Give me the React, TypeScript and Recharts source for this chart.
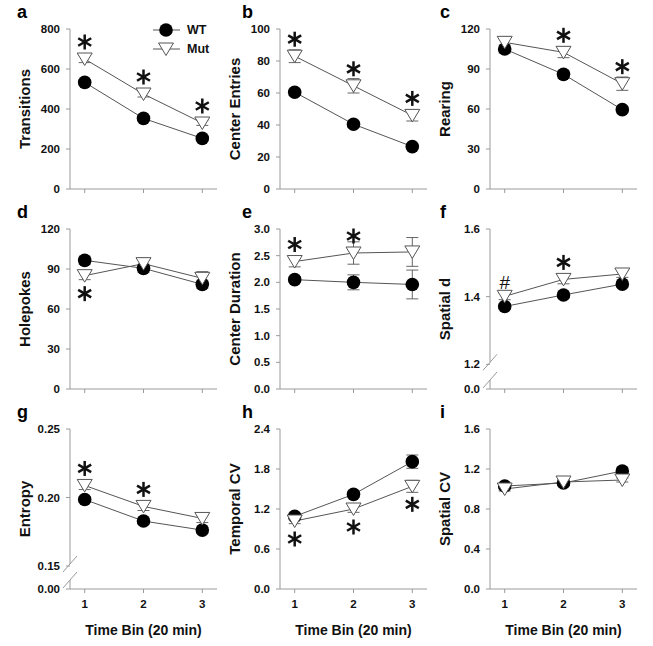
import React from 'react';
import { LineChart, Line, XAxis, YAxis, ErrorBar, LabelList } from 'recharts';

const FONT = 'Arial, "Liberation Sans", sans-serif';
const AXIS = '#9a9a9a';
const PLOT_TOP = 29;

const bins = [1, 2, 3];

// a - Transitions
const transWT = [533, 353, 253];
const transMut = [650, 475, 330];
const transWTErr = [14, 12, 10];
const transMutErr = [18, 15, 12];
const transSig = ['*', '*', '*'];

// b - Center Entries
const entriesWT = [60.5, 40.5, 26.5];
const entriesMut = [83, 64.5, 46];
const entriesWTErr = [2, 2, 1.5];
const entriesMutErr = [4, 4.5, 3.5];
const entriesSig = ['*', '*', '*'];

// c - Rearing
const rearWT = [105, 86, 59.5];
const rearMut = [110, 102.5, 79];
const rearWTErr = [3, 3, 2.5];
const rearMutErr = [4, 4, 5];
const rearSig = [null, '*', '*'];

// d - Holepokes
const holeWT = [96.5, 90.5, 78.5];
const holeMut = [85, 94, 83];
const holeWTErr = [3, 3, 3];
const holeMutErr = [3, 4, 5];
const holeSig = ['*', null, null];

// e - Center Duration
const durWT = [2.05, 2.0, 1.96];
const durMut = [2.39, 2.55, 2.57];
const durWTErr = [0.05, 0.14, 0.27];
const durMutErr = [0.1, 0.21, 0.27];
const durSig = ['*', '*', null];

// f - Spatial d
const spdWT = [1.371, 1.405, 1.437];
const spdMut = [1.401, 1.451, 1.467];
const spdWTErr = [0.008, 0.008, 0.008];
const spdMutErr = [0.01, 0.013, 0.01];
const spdSig = ['#', '*', null];

// g - Entropy
const entWT = [0.1985, 0.1828, 0.1762];
const entMut = [0.2088, 0.1935, 0.1847];
const entWTErr = [0.002, 0.002, 0.002];
const entMutErr = [0.003, 0.003, 0.003];
const entSig = ['*', '*', null];

// h - Temporal CV
const tcvWT = [1.09, 1.42, 1.91];
const tcvMut = [1.02, 1.2, 1.54];
const tcvWTErr = [0.05, 0.05, 0.1];
const tcvMutErr = [0.04, 0.05, 0.09];
const tcvSig = ['*', '*', '*'];

// i - Spatial CV
const scvWT = [1.03, 1.06, 1.18];
const scvMut = [1.0, 1.07, 1.09];
const scvWTErr = [0.02, 0.02, 0.03];
const scvMutErr = [0.02, 0.02, 0.02];
const scvSig = [null, null, null];

// y tick values and labels
const ticksA = [0, 200, 400, 600, 800];
const labelsA = ['0', '200', '400', '600', '800'];
const ticksB = [0, 20, 40, 60, 80, 100];
const labelsB = ['0', '20', '40', '60', '80', '100'];
const ticks120 = [0, 30, 60, 90, 120];
const labels120 = ['0', '30', '60', '90', '120'];
const ticksE = [0, 0.5, 1, 1.5, 2, 2.5, 3];
const labelsE = ['0.0', '0.5', '1.0', '1.5', '2.0', '2.5', '3.0'];
const ticksF = [1.127, 1.2, 1.4, 1.6];
const labelsF = ['0.0', '1.2', '1.4', '1.6'];
const ticksG = [0.1332, 0.15, 0.2, 0.25];
const labelsG = ['0.00', '0.15', '0.20', '0.25'];
const ticksH = [0, 0.6, 1.2, 1.8, 2.4];
const labelsH = ['0.0', '0.6', '1.2', '1.8', '2.4'];
const ticksI = [0, 0.4, 0.8, 1.2, 1.6];
const labelsI = ['0.0', '0.4', '0.8', '1.2', '1.6'];

interface PanelDef {
  letter: string;
  label: string;
  wt: number[];
  mut: number[];
  wtErr: number[];
  mutErr: number[];
  sig: (string | null)[];
  sigBelow?: boolean;
  ticks: number[];
  tickLabels: string[];
  broken?: boolean;
}

const panels: PanelDef[] = [
  { letter: 'a', label: 'Transitions', wt: transWT, mut: transMut, wtErr: transWTErr, mutErr: transMutErr, sig: transSig, ticks: ticksA, tickLabels: labelsA },
  { letter: 'b', label: 'Center Entries', wt: entriesWT, mut: entriesMut, wtErr: entriesWTErr, mutErr: entriesMutErr, sig: entriesSig, ticks: ticksB, tickLabels: labelsB },
  { letter: 'c', label: 'Rearing', wt: rearWT, mut: rearMut, wtErr: rearWTErr, mutErr: rearMutErr, sig: rearSig, ticks: ticks120, tickLabels: labels120 },
  { letter: 'd', label: 'Holepokes', wt: holeWT, mut: holeMut, wtErr: holeWTErr, mutErr: holeMutErr, sig: holeSig, sigBelow: true, ticks: ticks120, tickLabels: labels120 },
  { letter: 'e', label: 'Center Duration', wt: durWT, mut: durMut, wtErr: durWTErr, mutErr: durMutErr, sig: durSig, ticks: ticksE, tickLabels: labelsE },
  { letter: 'f', label: 'Spatial d', wt: spdWT, mut: spdMut, wtErr: spdWTErr, mutErr: spdMutErr, sig: spdSig, ticks: ticksF, tickLabels: labelsF, broken: true },
  { letter: 'g', label: 'Entropy', wt: entWT, mut: entMut, wtErr: entWTErr, mutErr: entMutErr, sig: entSig, ticks: ticksG, tickLabels: labelsG, broken: true },
  { letter: 'h', label: 'Temporal CV', wt: tcvWT, mut: tcvMut, wtErr: tcvWTErr, mutErr: tcvMutErr, sig: tcvSig, sigBelow: true, ticks: ticksH, tickLabels: labelsH },
  { letter: 'i', label: 'Spatial CV', wt: scvWT, mut: scvMut, wtErr: scvWTErr, mutErr: scvMutErr, sig: scvSig, ticks: ticksI, tickLabels: labelsI },
];

const letterX = [17, 32, 20];

function Asterisk({ cx, cy }: { cx: number; cy: number }) {
  const r = 7.5;
  return (
    <g stroke="#111" strokeWidth={2.5}>
      <line x1={cx} y1={cy - r} x2={cx} y2={cy + r} />
      <line x1={cx - r * 0.866} y1={cy - r * 0.5} x2={cx + r * 0.866} y2={cy + r * 0.5} />
      <line x1={cx - r * 0.866} y1={cy + r * 0.5} x2={cx + r * 0.866} y2={cy - r * 0.5} />
    </g>
  );
}

const wtDot = (p: any) => <circle key={`wt-${p.index}`} cx={p.cx} cy={p.cy} r={6.8} fill="#000" />;
const mutDot = (p: any) => (
  <polygon
    key={`mut-${p.index}`}
    points={`${p.cx - 7.5},${p.cy - 6} ${p.cx + 7.5},${p.cy - 6} ${p.cx},${p.cy + 6.5}`}
    fill="#fff"
    stroke="#555"
    strokeWidth={1}
  />
);

const makeSig = (below?: boolean) => (props: any) => {
  const { x, y, value, index } = props;
  if (!value) return null;
  if (value === '#') {
    return (
      <text key={`s-${index}`} x={x} y={y - 14} dy="0.35em" textAnchor="middle" fontFamily={FONT} fontSize={19} fill="#111">
        #
      </text>
    );
  }
  const cy = below ? y + 18 : y - 17;
  return <Asterisk key={`s-${index}`} cx={x} cy={cy} />;
};

const makeYTick = (p: PanelDef) => (props: any) => {
  const { x, y, payload } = props;
  const idx = p.ticks.indexOf(payload.value);
  const ax = x + 10;
  return (
    <g>
      <text x={x} y={y} dy="0.35em" textAnchor="end" fontFamily={FONT} fontWeight="bold" fontSize={11.5} fill="#111">
        {p.tickLabels[idx]}
      </text>
      {p.broken && idx === 1 && (
        <g stroke={AXIS} strokeWidth={1}>
          <line x1={ax} y1={PLOT_TOP} x2={ax} y2={y - 2} />
          <line x1={ax - 7} y1={y + 6} x2={ax + 7} y2={y - 10} />
        </g>
      )}
      {p.broken && idx === 0 && (
        <g stroke={AXIS} strokeWidth={1}>
          <line x1={ax} y1={y - 9} x2={ax} y2={y} />
          <line x1={ax - 7} y1={y - 1} x2={ax + 7} y2={y - 17} />
        </g>
      )}
    </g>
  );
};

function Panel({ p, row, col }: { p: PanelDef; row: number; col: number }) {
  const bottom = row === 2;
  const data = bins.map((b, i) => ({
    bin: b,
    wt: p.wt[i],
    mut: p.mut[i],
    wtErr: p.wtErr[i],
    mutErr: p.mutErr[i],
    sig: p.sig[i],
  }));
  const height = bottom ? 246 : 200;
  return (
    <div style={{ position: 'absolute', left: col * 210, top: row * 200, width: 220, height }}>
      <div style={{ position: 'absolute', left: letterX[col], top: 2, fontFamily: FONT, fontWeight: 'bold', fontSize: 18 }}>{p.letter}</div>
      <LineChart width={220} height={height} data={data} margin={{ top: PLOT_TOP, right: 3, left: 20, bottom: 0 }}>
        <XAxis
          type="number"
          dataKey="bin"
          domain={[0.75, 3.25]}
          ticks={bins}
          height={bottom ? 57 : 11}
          stroke={AXIS}
          tickSize={4}
          tickMargin={7}
          tick={{ fill: '#111', fontFamily: FONT, fontWeight: 'bold', fontSize: 11.5 }}
          tickFormatter={(v: number) => (bottom ? String(v) : '')}
          label={
            bottom
              ? (lp: any) => {
                  const vb = lp.viewBox;
                  return (
                    <text x={vb.x + vb.width / 2} y={vb.y + 46} textAnchor="middle" fontFamily={FONT} fontWeight="bold" fontSize={14} fill="#111">
                      Time Bin (20 min)
                    </text>
                  );
                }
              : undefined
          }
        />
        <YAxis
          type="number"
          width={50}
          domain={[p.ticks[0], p.ticks[p.ticks.length - 1]]}
          ticks={p.ticks}
          stroke={AXIS}
          axisLine={!p.broken}
          tickSize={4}
          tickMargin={6}
          tick={makeYTick(p)}
          label={(lp: any) => {
            const vb = lp.viewBox;
            const cx = vb.x + 4;
            const cy = vb.y + vb.height / 2;
            return (
              <text x={cx} y={cy} transform={`rotate(-90 ${cx} ${cy})`} textAnchor="middle" dominantBaseline="central" fontFamily={FONT} fontWeight="bold" fontSize={15} fill="#111">
                {p.label}
              </text>
            );
          }}
        />
        <Line type="linear" dataKey="wt" stroke="#555" strokeWidth={1} dot={wtDot} activeDot={false} isAnimationActive={false}>
          <ErrorBar dataKey="wtErr" width={6} stroke="#666" strokeWidth={1} direction="y" isAnimationActive={false} />
        </Line>
        <Line type="linear" dataKey="mut" stroke="#555" strokeWidth={1} dot={mutDot} activeDot={false} isAnimationActive={false}>
          <ErrorBar dataKey="mutErr" width={6} stroke="#666" strokeWidth={1} direction="y" isAnimationActive={false} />
          <LabelList dataKey="sig" content={makeSig(p.sigBelow)} />
        </Line>
      </LineChart>
    </div>
  );
}

function LegendBox() {
  return (
    <svg style={{ position: 'absolute', left: 140, top: 18 }} width={80} height={45}>
      <line x1={13} y1={12} x2={40} y2={12} stroke="#555" strokeWidth={1} />
      <circle cx={26} cy={12} r={6.8} fill="#000" />
      <text x={47} y={12} dy="0.35em" fontFamily={FONT} fontWeight="bold" fontSize={12.5} fill="#111">WT</text>
      <line x1={13} y1={31} x2={40} y2={31} stroke="#555" strokeWidth={1} />
      <polygon points="18.5,25 33.5,25 26,37.5" fill="#fff" stroke="#555" strokeWidth={1} />
      <text x={47} y={31} dy="0.35em" fontFamily={FONT} fontWeight="bold" fontSize={12.5} fill="#111">Mut</text>
    </svg>
  );
}

export default function App() {
  return (
    <div style={{ position: 'absolute', left: 0, top: 0, width: 653, height: 646, background: '#fff' }}>
      {panels.map((p, i) => (
        <Panel key={p.letter} p={p} row={Math.floor(i / 3)} col={i % 3} />
      ))}
      <LegendBox />
    </div>
  );
}
